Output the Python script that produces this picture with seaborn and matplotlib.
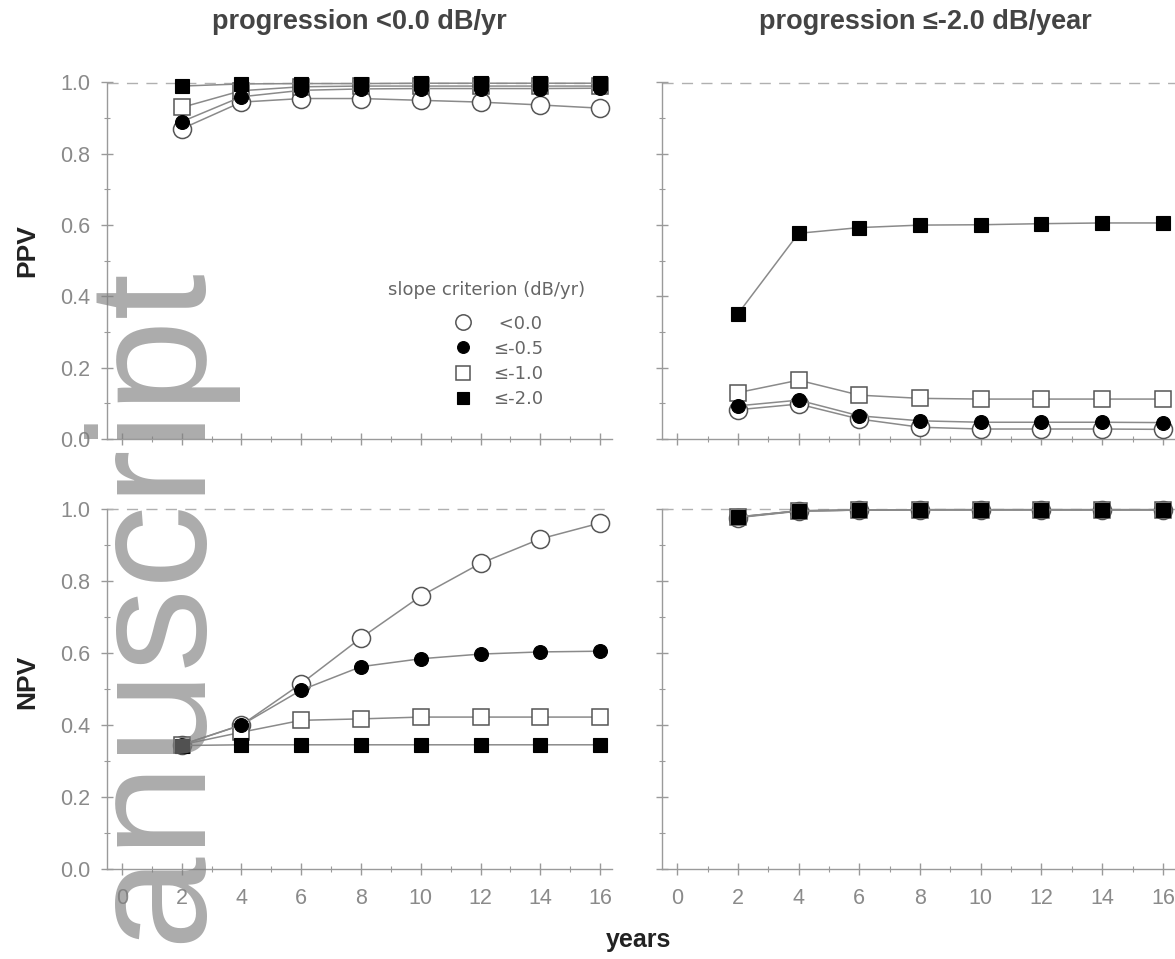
import matplotlib
matplotlib.use("Agg")
import matplotlib.pyplot as plt
import seaborn as sns
import pandas as pd
from matplotlib.lines import Line2D
from matplotlib.ticker import MultipleLocator, FormatStrFormatter

# ---------------- data ----------------
years = [2, 4, 6, 8, 10, 12, 14, 16]
criteria = ["<0.0", "≤-0.5", "≤-1.0", "≤-2.0"]

# PPV, progression <0.0 dB/yr
ppv_a_lt00 = [0.87, 0.945, 0.955, 0.955, 0.95, 0.945, 0.937, 0.928]
ppv_a_le05 = [0.89, 0.96, 0.978, 0.982, 0.983, 0.983, 0.983, 0.984]
ppv_a_le10 = [0.93, 0.977, 0.988, 0.99, 0.99, 0.99, 0.99, 0.99]
ppv_a_le20 = [0.99, 0.996, 0.997, 0.997, 0.998, 0.998, 0.998, 0.998]

# PPV, progression <=-2.0 dB/year
ppv_b_lt00 = [0.082, 0.098, 0.056, 0.033, 0.028, 0.028, 0.028, 0.027]
ppv_b_le05 = [0.093, 0.109, 0.065, 0.051, 0.047, 0.047, 0.047, 0.046]
ppv_b_le10 = [0.130, 0.165, 0.123, 0.114, 0.112, 0.112, 0.112, 0.112]
ppv_b_le20 = [0.351, 0.577, 0.593, 0.600, 0.601, 0.604, 0.606, 0.606]

# NPV, progression <0.0 dB/yr
npv_a_lt00 = [0.345, 0.40, 0.515, 0.642, 0.758, 0.849, 0.917, 0.961]
npv_a_le05 = [0.345, 0.40, 0.497, 0.562, 0.584, 0.597, 0.603, 0.605]
npv_a_le10 = [0.345, 0.38, 0.413, 0.417, 0.422, 0.422, 0.422, 0.422]
npv_a_le20 = [0.343, 0.345, 0.345, 0.345, 0.345, 0.345, 0.345, 0.345]

# NPV, progression <=-2.0 dB/year
npv_b_lt00 = [0.976, 0.994, 0.997, 0.998, 0.998, 0.998, 0.998, 0.998]
npv_b_le05 = [0.977, 0.995, 0.997, 0.998, 0.998, 0.998, 0.998, 0.998]
npv_b_le10 = [0.978, 0.995, 0.997, 0.998, 0.998, 0.998, 0.998, 0.998]
npv_b_le20 = [0.978, 0.995, 0.997, 0.998, 0.998, 0.998, 0.998, 0.998]

panels = {
    "tl": [ppv_a_lt00, ppv_a_le05, ppv_a_le10, ppv_a_le20],
    "tr": [ppv_b_lt00, ppv_b_le05, ppv_b_le10, ppv_b_le20],
    "bl": [npv_a_lt00, npv_a_le05, npv_a_le10, npv_a_le20],
    "br": [npv_b_lt00, npv_b_le05, npv_b_le10, npv_b_le20],
}

title_left = "progression <0.0 dB/yr"
title_right = "progression ≤-2.0 dB/year"
legend_title = "slope criterion (dB/yr)"

# ---------------- style ----------------
sns.set_theme(style="white")
plt.rcParams["font.family"] = ["Liberation Sans", "DejaVu Sans"]

styles = {
    "<0.0": dict(marker="o", markersize=13, markerfacecolor="white",
                 markeredgecolor="#555555", markeredgewidth=1.1),
    "≤-0.5": dict(marker="o", markersize=10, markerfacecolor="black",
                  markeredgecolor="black", markeredgewidth=0.8),
    "≤-1.0": dict(marker="s", markersize=12, markerfacecolor="white",
                  markeredgecolor="#555555", markeredgewidth=1.1),
    "≤-2.0": dict(marker="s", markersize=9.5, markerfacecolor="black",
                  markeredgecolor="black", markeredgewidth=0.8),
}
draw_order = ["<0.0", "≤-1.0", "≤-0.5", "≤-2.0"]

W, H = 1175, 959
fig = plt.figure(figsize=(W / 100, H / 100), dpi=100)


def axpos(l, r, top, bot):
    return [l / W, 1 - bot / H, (r - l) / W, (bot - top) / H]


axes = {
    "tl": fig.add_axes(axpos(107, 612, 82.5, 439)),
    "tr": fig.add_axes(axpos(662, 1175, 82.5, 439)),
    "bl": fig.add_axes(axpos(107, 612, 509, 869)),
    "br": fig.add_axes(axpos(662, 1175, 509, 869)),
}

spine_col = "#9a9a9a"
for key, ax in axes.items():
    series = dict(zip(criteria, panels[key]))
    for z, crit in enumerate(draw_order):
        df = pd.DataFrame({"year": years, "value": series[crit]})
        sns.lineplot(data=df, x="year", y="value", ax=ax, color="#8a8a8a",
                     linewidth=1.1, legend=False, clip_on=False,
                     zorder=3 + z, **styles[crit])
    ax.axhline(1.0, color="#b0b0b0", lw=1, ls=(0, (8, 6)), zorder=1, clip_on=False)
    ax.set_xlim(-0.5, 16.4)
    ax.set_ylim(0, 1.0)
    ax.xaxis.set_major_locator(MultipleLocator(2))
    ax.xaxis.set_minor_locator(MultipleLocator(1))
    ax.yaxis.set_major_locator(MultipleLocator(0.2))
    ax.yaxis.set_minor_locator(MultipleLocator(0.1))
    ax.yaxis.set_major_formatter(FormatStrFormatter("%.1f"))
    for s in ["top", "right"]:
        ax.spines[s].set_visible(False)
    for s in ["left", "bottom"]:
        ax.spines[s].set_color(spine_col)
        ax.spines[s].set_linewidth(1)
    ax.tick_params(which="both", direction="inout", color=spine_col,
                   labelcolor="#8a8a8a", labelsize=15.5, bottom=True, left=True)
    ax.tick_params(which="major", length=8, width=1)
    ax.tick_params(which="minor", length=4, width=0.8)
    ax.tick_params(axis="x", pad=10)
    ax.tick_params(axis="y", pad=8)
    ax.set_xlabel("")
    ax.set_ylabel("")
    ax.grid(False)
    ax.set_facecolor("none")

axes["tl"].tick_params(labelbottom=False)
axes["tr"].tick_params(labelbottom=False, labelleft=False)
axes["br"].tick_params(labelleft=False)

# legend (entries) + its title placed above
ax_tl = axes["tl"]
handles = [Line2D([], [], linestyle="none", **styles[c]) for c in criteria]
leg_labels = [" " + criteria[0]] + criteria[1:]
leg = ax_tl.legend(handles, leg_labels, loc="upper left",
                   bbox_to_anchor=(0.687, 0.349), frameon=False,
                   prop={"family": "DejaVu Sans", "size": 13},
                   labelspacing=0.4, handlelength=1.0, handletextpad=1.15,
                   labelcolor="#666666", markerscale=0.85, borderpad=0,
                   borderaxespad=0)
ax_tl.text(0.752, 0.418, legend_title, transform=ax_tl.transAxes,
           ha="center", va="center", family="DejaVu Sans", fontsize=13,
           color="#666666")

# titles and labels
fig.text((107 + 612) / 2 / W, 1 - 22 / H, title_left, ha="center", va="center",
         fontsize=19.5, fontweight="bold", color="#444444")
fig.text(925 / W, 1 - 22 / H, title_right, ha="center", va="center",
         fontsize=19.5, fontweight="bold", color="#444444")
fig.text(27 / W, 1 - 251 / H, "PPV", rotation=90, ha="center", va="center",
         fontsize=19, fontweight="bold", color="#222222")
fig.text(27 / W, 1 - 682 / H, "NPV", rotation=90, ha="center", va="center",
         fontsize=19, fontweight="bold", color="#222222")
fig.text(639 / W, 1 - 940 / H, "years", ha="center", va="center",
         fontsize=18, fontweight="bold", color="#222222")

# watermark
fig.text(192 / W, -0.12, "Manuscript", rotation=90, rotation_mode="anchor",
         ha="left", va="baseline", fontsize=120, family="Liberation Sans",
         color="#7f7f7f", alpha=0.65, zorder=10)

fig.savefig("out.png", dpi=100)
